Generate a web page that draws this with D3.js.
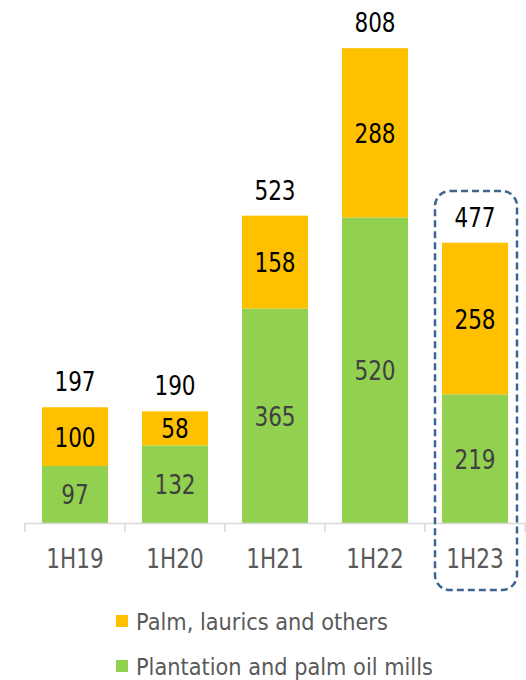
<!DOCTYPE html>
<html>
<head>
<meta charset="utf-8">
<script src="https://cdn.jsdelivr.net/npm/d3@7"></script>
<style>
  html, body { margin: 0; padding: 0; background: #fff; }
  svg { display: block; font-family: "DejaVu Sans", Verdana, sans-serif; }
</style>
</head>
<body>
<svg id="chart" width="526" height="680"></svg>
<script>
// Chart data
const periods = ["1H19", "1H20", "1H21", "1H22", "1H23"];
const plantation = [97, 132, 365, 520, 219];
const palmLaurics = [100, 58, 158, 288, 258];
const totals = [197, 190, 523, 808, 477];
const seriesNames = ["Palm, laurics and others", "Plantation and palm oil mills"];
const highlighted = "1H23";

const GREEN = "#92D050";
const ORANGE = "#FFC000";
const SQUEEZE = 0.8; // source font is narrower than DejaVu

const svg = d3.select("#chart");
const baseY = 523;

const x = d3.scaleBand()
    .domain(periods)
    .range([25, 525])
    .paddingInner(0.34)
    .paddingOuter(0.17);

const y = d3.scaleLinear()
    .domain([0, 890])
    .range([baseY, 0]);

// helper for horizontally squeezed text
function addText(g, tx, ty, str, size, fill, anchor, squeeze) {
    return g.append("text")
        .attr("transform", `translate(${tx},${ty}) scale(${squeeze || SQUEEZE},1)`)
        .attr("text-anchor", anchor || "middle")
        .style("font-size", size + "px")
        .attr("fill", fill)
        .text(str);
}

const rows = periods.map((p, i) => ({
    period: p,
    green: plantation[i],
    orange: palmLaurics[i],
    total: totals[i]
}));

// Bars
const bars = svg.append("g");
bars.selectAll(".green").data(rows).join("rect")
    .attr("class", "green")
    .attr("x", d => x(d.period))
    .attr("width", x.bandwidth())
    .attr("y", d => y(d.green))
    .attr("height", d => y(0) - y(d.green))
    .attr("fill", GREEN);

bars.selectAll(".orange").data(rows).join("rect")
    .attr("class", "orange")
    .attr("x", d => x(d.period))
    .attr("width", x.bandwidth())
    .attr("y", d => y(d.green + d.orange))
    .attr("height", d => y(d.green) - y(d.green + d.orange))
    .attr("fill", ORANGE);

// Axis line + ticks between categories
const axisG = svg.append("g");
const half = (x.step() - x.bandwidth()) / 2;
const bounds = periods.map(p => x(p) - half).concat([x(periods[periods.length - 1]) + x.bandwidth() + half]);
axisG.append("line")
    .attr("x1", bounds[0]).attr("x2", bounds[bounds.length - 1])
    .attr("y1", baseY + 0.5).attr("y2", baseY + 0.5)
    .attr("stroke", "#d9d9d9").attr("stroke-width", 1.5);
axisG.selectAll(".tick").data(bounds).join("line")
    .attr("x1", d => d).attr("x2", d => d)
    .attr("y1", baseY).attr("y2", baseY + 9)
    .attr("stroke", "#d9d9d9").attr("stroke-width", 1.5);

// Labels
const labels = svg.append("g");
rows.forEach(d => {
    const cx = x(d.period) + x.bandwidth() / 2;
    // segment labels
    addText(labels, cx, (y(0) + y(d.green)) / 2 + 10, d.green, 27, "#404040");
    addText(labels, cx, (y(d.green) + y(d.green + d.orange)) / 2 + 10, d.orange, 27, "#000");
    // totals
    addText(labels, cx, y(d.total) - 16, d.total, 27, "#000");
    // category
    addText(labels, cx, 568, d.period, 27, "#595959");
});

// Highlight box around latest period
const hx = x(highlighted);
svg.append("rect")
    .attr("x", hx - 7)
    .attr("y", 191)
    .attr("width", x.bandwidth() + 16)
    .attr("height", 399)
    .attr("rx", 15).attr("ry", 15)
    .attr("fill", "none")
    .attr("stroke", "#3F6491")
    .attr("stroke-width", 2.5)
    .attr("stroke-dasharray", "7,4");

// Legend
const legend = svg.append("g");
const legendColors = [ORANGE, GREEN];
seriesNames.forEach((name, i) => {
    const ly = 630 + i * 45;
    legend.append("rect")
        .attr("x", 116).attr("y", ly - 15)
        .attr("width", 12).attr("height", 12)
        .attr("fill", legendColors[i]);
    addText(legend, 136, ly, name, 23, "#595959", "start", 0.91);
});
</script>
</body>
</html>
